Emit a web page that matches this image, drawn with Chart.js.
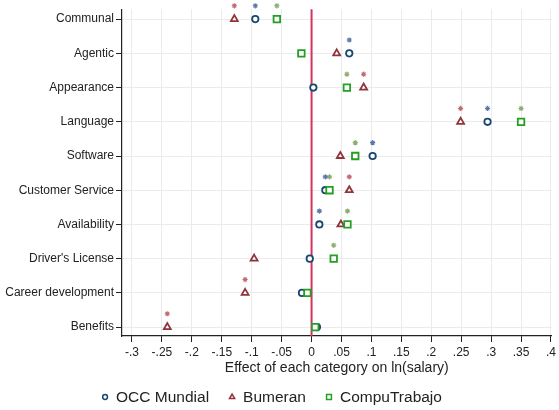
<!DOCTYPE html>
<html>
<head>
<meta charset="utf-8">
<script src="https://cdn.jsdelivr.net/npm/chart.js@4"></script>
<style>
  html, body { margin: 0; padding: 0; background: #fff; }
  #wrap { width: 559px; height: 410px; }
</style>
</head>
<body>
<div id="wrap"><canvas id="chart"></canvas></div>
<script>
// Category effects on ln(salary), by job board

const categories = ['Communal', 'Agentic', 'Appearance', 'Language', 'Software',
  'Customer Service', 'Availability', "Driver's License", 'Career development', 'Benefits'];

const occ = [-0.094, 0.063, 0.003, 0.294, 0.102, 0.023, 0.013, -0.003, -0.016, 0.009];
const bumeran = [-0.129, 0.042, 0.087, 0.249, 0.048, 0.063, 0.049, -0.096, -0.111, -0.241];
const compu = [-0.058, -0.017, 0.059, 0.350, 0.073, 0.030, 0.060, 0.037, -0.007, 0.006];

// 1 = significant (star drawn above the marker)
const occSig = [1, 1, 0, 1, 1, 1, 1, 0, 0, 0];
const bumeranSig = [1, 0, 1, 1, 0, 1, 0, 0, 1, 1];
const compuSig = [1, 0, 1, 1, 1, 1, 1, 1, 0, 0];

const xTicks = [-0.3, -0.25, -0.2, -0.15, -0.1, -0.05, 0, 0.05, 0.1, 0.15, 0.2, 0.25, 0.3, 0.35, 0.4];

const series = [
  { label: 'OCC Mundial', values: occ, sig: occSig, style: 'circle', radius: 3.2, color: '#1a476f', star: '#5a7aab', order: 2 },
  { label: 'Bumeran', values: bumeran, sig: bumeranSig, style: 'triangle', radius: 4, color: '#90353b', star: '#c46872', order: 1 },
  { label: 'CompuTrabajo', values: compu, sig: compuSig, style: 'rect', radius: 4.6, color: '#23a023', star: '#8fab6e', order: 0 },
];

const starLift = 0.39; // in category rows

function fmtTick(v) {
  if (Math.abs(v) < 1e-9) return '0';
  const s = Math.abs(v).toFixed(2).replace(/0+$/, '').replace(/^0/, '');
  return (v < 0 ? '-' : '') + s;
}

const datasets = [];
series.forEach(s => {
  datasets.push({
    label: s.label,
    data: s.values.map((v, i) => ({ x: v, y: i })),
    pointStyle: s.style,
    pointRadius: s.radius,
    pointBorderWidth: 1.8,
    pointBorderColor: s.color,
    pointBackgroundColor: '#fff',
    showLine: false,
    order: s.order,
  });
});
series.forEach(s => {
  datasets.push({
    label: s.label + ' sig',
    data: s.values.map((v, i) => ({ x: v, y: i - starLift })).filter((_, i) => s.sig[i]),
    pointStyle: 'star',
    pointRadius: 2.6,
    pointBorderWidth: 1.1,
    pointBorderColor: s.star,
    pointBackgroundColor: s.star,
    showLine: false,
    clip: false,
    order: 5,
  });
});

const zeroLine = {
  id: 'zeroLine',
  beforeDatasetsDraw(chart) {
    const { ctx, chartArea } = chart;
    const x = chart.scales.x.getPixelForValue(0);
    ctx.save();
    ctx.strokeStyle = '#d1345f';
    ctx.lineWidth = 2;
    ctx.beginPath();
    ctx.moveTo(x, chartArea.top);
    ctx.lineTo(x, chartArea.bottom);
    ctx.stroke();
    ctx.restore();
  }
};

// legend drawn by hand so it can sit low with wide gaps
const bottomLegend = {
  id: 'bottomLegend',
  afterDraw(chart) {
    const ctx = chart.ctx;
    ctx.save();
    ctx.font = '15.5px "Liberation Sans", Arial, sans-serif';
    ctx.textBaseline = 'middle';
    const gapMark = 11, gapItem = 23;
    const widths = series.map(s => ctx.measureText(s.label).width);
    let total = 0;
    widths.forEach(w => total += gapMark + w + gapItem);
    total -= gapItem;
    let x = chart.width / 2 - total / 2 - 6;
    const y = 397;
    series.forEach((s, i) => {
      ctx.fillStyle = '#fff';
      ctx.strokeStyle = s.color;
      ctx.lineWidth = 1.5;
      Chart.helpers.drawPoint(ctx, { pointStyle: s.style, radius: s.radius * 0.75, rotation: 0, borderWidth: 1.5 }, x, y);
      ctx.fillStyle = '#222';
      ctx.fillText(s.label, x + gapMark, y + 1);
      x += gapMark + widths[i] + gapItem;
    });
    ctx.restore();
  }
};

new Chart(document.getElementById('chart'), {
  type: 'scatter',
  data: { datasets },
  options: {
    responsive: true,
    maintainAspectRatio: false,
    animation: false,
    layout: { padding: { top: 8, right: 2, left: 0, bottom: 29 } },
    plugins: {
      legend: { display: false },
      tooltip: { enabled: false },
    },
    scales: {
      x: {
        type: 'linear',
        min: -0.3167,
        max: 0.401,
        afterBuildTicks: axis => { axis.ticks = xTicks.map(v => ({ value: v })); },
        afterFit: axis => { axis.height = 45; },
        ticks: {
          callback: v => fmtTick(v),
          font: { family: '"Liberation Sans", Arial, sans-serif', size: 12 },
          color: '#222',
          padding: 3,
          maxRotation: 0,
          autoSkip: false,
        },
        grid: { color: '#ebebeb', lineWidth: 1, tickLength: 6, tickColor: '#222' },
        border: { color: '#222', width: 1.2 },
        title: {
          display: true,
          text: 'Effect of each category on ln(salary)',
          font: { family: '"Liberation Sans", Arial, sans-serif', size: 14 },
          color: '#222',
          padding: { top: 0, bottom: 4 },
        },
      },
      y: {
        type: 'linear',
        reverse: true,
        min: -0.29,
        max: 9.26,
        afterBuildTicks: axis => { axis.ticks = categories.map((_, i) => ({ value: i })); },
        afterFit: axis => { axis.width = 122; },
        ticks: {
          callback: v => categories[v],
          font: { family: '"Liberation Sans", Arial, sans-serif', size: 12 },
          color: '#222',
          padding: 2,
          autoSkip: false,
        },
        grid: { color: '#ebebeb', lineWidth: 1, tickLength: 6, tickColor: '#222' },
        border: { color: '#222', width: 1.2 },
      },
    },
  },
  plugins: [zeroLine, bottomLegend],
});
</script>
</body>
</html>
